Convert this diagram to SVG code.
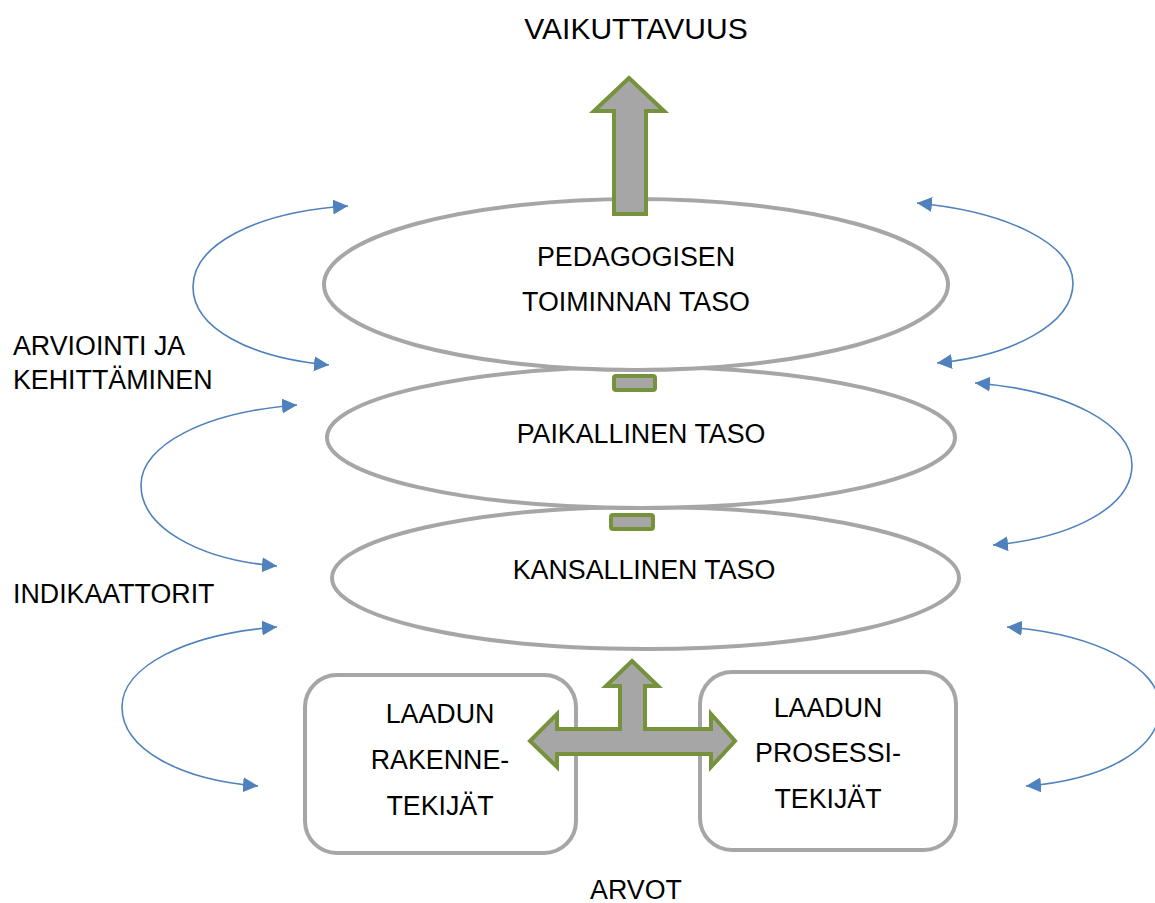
<svg xmlns="http://www.w3.org/2000/svg" width="1155" height="903" viewBox="0 0 1155 903">
<style>
.lvl{fill:#ffffff;stroke:#a6a6a6;stroke-width:4}
.box{fill:#ffffff;stroke:#a6a6a6;stroke-width:4}
.garrow{fill:#a6a6a6;stroke:#76923c;stroke-width:4;stroke-linejoin:miter}
.loop{fill:none;stroke:#4f81bd;stroke-width:1.6}
text{font-family:"Liberation Sans",Arial,sans-serif;font-size:26.8px;fill:#000000}
.c{text-anchor:middle}
</style>
<defs>
<marker id="ah" markerUnits="userSpaceOnUse" markerWidth="16" markerHeight="16" refX="15" refY="7.5" orient="auto-start-reverse" viewBox="0 0 16 16">
<path d="M0,0 L15,7.5 L0,15 z" fill="#4f81bd"/>
</marker>
</defs>
<rect width="1155" height="903" fill="#ffffff"/>
<g id="level-national">
<ellipse class="lvl" cx="645.5" cy="578" rx="313.5" ry="71"/>
<text class="c" x="644" y="579">KANSALLINEN TASO</text>
</g>
<g id="level-local">
<ellipse class="lvl" cx="641" cy="437.5" rx="314" ry="70.5"/>
<text class="c" x="641" y="443">PAIKALLINEN TASO</text>
</g>
<g id="level-pedagogical">
<ellipse class="lvl" cx="636" cy="284.5" rx="312" ry="85.5"/>
<text class="c" x="636" y="266">PEDAGOGISEN</text>
<text class="c" x="636" y="311">TOIMINNAN TASO</text>
</g>
<g id="box-structure">
<rect class="box" x="305" y="675" width="271" height="178" rx="32"/>
<text class="c" x="440" y="723">LAADUN</text>
<text class="c" x="440" y="769">RAKENNE-</text>
<text class="c" x="440" y="815">TEKIJÄT</text>
</g>
<g id="box-process">
<rect class="box" x="700" y="672" width="256" height="178" rx="32"/>
<text class="c" x="828" y="717">LAADUN</text>
<text class="c" x="828" y="762">PROSESSI-</text>
<text class="c" x="828" y="808">TEKIJÄT</text>
</g>
<g id="label-top"><text class="c" x="636" y="39" style="font-size:30px">VAIKUTTAVUUS</text></g>
<g id="label-bottom"><text class="c" x="636" y="899">ARVOT</text></g>
<g id="label-eval">
<text x="13" y="355">ARVIOINTI JA</text>
<text x="13" y="389">KEHITTÄMINEN</text>
</g>
<g id="label-ind"><text x="13" y="603">INDIKAATTORIT</text></g>
<g id="connectors">
<polygon class="garrow" points="629,78 664,111 646,111 646,214 614,214 614,111 594,111"/>
<rect class="garrow" x="614" y="376" width="41" height="14" rx="2"/>
<rect class="garrow" x="611" y="515" width="42" height="14" rx="2"/>
<polygon class="garrow" points="632,661 658,686 645,686 645,729 711,729 711,714 735,741 711,767 711,754 557,754 557,767 530,741 557,714 557,729 620,729 620,686 606,686"/>
<path class="loop" marker-start="url(#ah)" marker-end="url(#ah)" d="M348,206 C255,212 193,245 193,287 C193,328 250,358 329,365"/>
<path class="loop" marker-start="url(#ah)" marker-end="url(#ah)" d="M917,203 C1010,212 1073,245 1073,283 C1073,325 1010,356 937,363"/>
<path class="loop" marker-start="url(#ah)" marker-end="url(#ah)" d="M297,405 C205,412 141,445 141,485 C141,528 200,560 277,566"/>
<path class="loop" marker-start="url(#ah)" marker-end="url(#ah)" d="M975,383 C1068,390 1132,425 1132,465 C1132,507 1072,538 993,545"/>
<path class="loop" marker-start="url(#ah)" marker-end="url(#ah)" d="M277,627 C185,634 122,667 122,707 C122,749 180,780 258,786"/>
<path class="loop" marker-start="url(#ah)" marker-end="url(#ah)" d="M1007,627 C1095,634 1160,667 1160,707 C1160,749 1105,780 1026,786"/>
</g>
</svg>
